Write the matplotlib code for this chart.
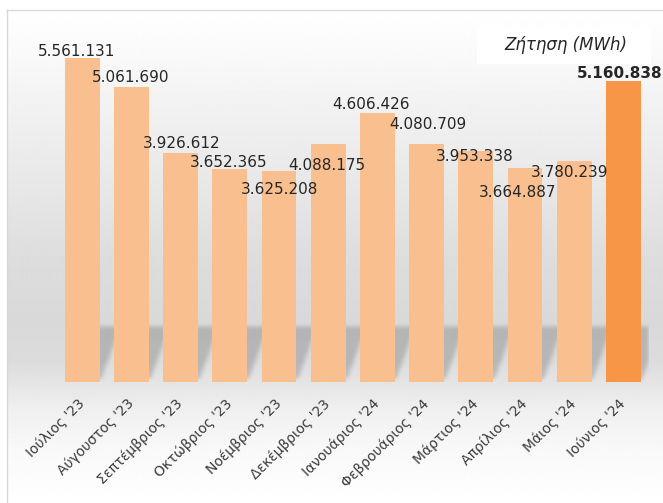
import numpy as np
import matplotlib
matplotlib.use("Agg")
import matplotlib.pyplot as plt
from matplotlib.patches import Rectangle
from matplotlib.lines import Line2D

months = ["Ιούλιος '23", "Αύγουστος '23", "Σεπτέμβριος '23", "Οκτώβριος '23",
          "Νοέμβριος '23", "Δεκέμβριος '23", "Ιανουάριος '24", "Φεβρουάριος '24",
          "Μάρτιος '24", "Απρίλιος '24", "Μάιος '24", "Ιούνιος '24"]
demand = [5561131, 5061690, 3926612, 3652365, 3625208, 4088175,
          4606426, 4080709, 3953338, 3664887, 3780239, 5160838]
title = "Ζήτηση (MWh)"

# label offsets in pixels from the top centre of each bar (as placed in the original)
lab_off = [(-6, 6), (-1, 9), (1, 9), (-1, 6), (0, -19), (-1, -22),
           (-6, 9), (1, 19), (-1, -5), (-7, -24), (-5, -11), (-4, 7)]

light = "#F9BF8F"
dark = "#F79646"

W, H = 663, 503
fig = plt.figure(figsize=(W / 100, H / 100), dpi=100)

# background gradient inside the chart frame
bg = fig.add_axes([7 / W, 0, 1 - 7 / W, (H - 10) / H])
ypx = np.arange(10, H)
stops_y = [10, 50, 120, 200, 260, 320, 360, 385, 410, 450, 503]
stops_v = [1.0, 0.98, 0.94, 0.90, 0.865, 0.85, 0.86, 0.90, 0.94, 0.975, 1.0]
g = np.interp(ypx, stops_y, stops_v)
img = np.repeat(g[:, None], 4, axis=1)
bg.imshow(img, cmap="gray", vmin=0, vmax=1, aspect="auto", interpolation="bilinear")
bg.axis("off")

fig.add_artist(Line2D([7 / W, 1], [1 - 10 / H, 1 - 10 / H], color="#d9d9d9", lw=1))
fig.add_artist(Line2D([7 / W, 7 / W], [0, 1 - 10 / H], color="#d9d9d9", lw=1))

# title box
fig.add_artist(Rectangle((477 / W, 1 - 63 / H), 173 / W, 36 / H,
                         transform=fig.transFigure, color="white", zorder=1))
fig.text(566 / W, 1 - 45 / H, title, ha="center", va="center",
         fontsize=12, style="italic", color="#262626", zorder=2)

ax = fig.add_axes([57.6 / W, 121 / H, 590.4 / W, 350 / H])
ax.patch.set_alpha(0)
x = np.arange(len(demand))
colors = [light] * (len(demand) - 1) + [dark]
bw = 0.71
ax.bar(x, demand, width=bw, color=colors, zorder=3)

# soft slanted shadow behind each bar, built as a blurred mask image
sh_h = 0.95e6
sh_dx = 0.4
nx, ny = 600, 110
gx = np.linspace(-0.5, len(demand) - 0.5, nx)
gy = np.linspace(0, 1.6e6, ny)
XX, YY = np.meshgrid(gx, gy)
t = YY / sh_h
mask = np.zeros_like(XX)
for xi in x:
    inside = (t <= 1) & (t > 0.05) & (XX >= xi - bw / 2 + t * sh_dx) & (XX <= xi + bw / 2 + t * sh_dx)
    mask = np.maximum(mask, inside * 1.0)
kern = np.ones(5) / 5
for _ in range(2):
    mask = np.apply_along_axis(lambda r: np.convolve(r, kern, mode="same"), 1, mask)
    mask = np.apply_along_axis(lambda c: np.convolve(c, kern, mode="same"), 0, mask)
shadow = np.zeros((ny, nx, 4))
shadow[..., 3] = 0.17 * mask
ax.imshow(shadow, extent=(-0.5, len(demand) - 0.5, 0, 1.6e6), origin="lower",
          aspect="auto", zorder=2, interpolation="bilinear")

for i, v in enumerate(demand):
    ax.annotate(f"{v:,}".replace(",", "."), (x[i], v), xytext=lab_off[i],
                textcoords="offset pixels", ha="center", va="center",
                fontsize=11, color="#262626",
                fontweight="bold" if i == len(demand) - 1 else "normal", zorder=5)

ax.set_xlim(-0.5, len(demand) - 0.5)
ax.set_ylim(0, 6.0e6)
ax.set_yticks([])
ax.set_xticks(x)
ax.set_xticklabels(months, fontsize=10, color="#3b3b3b")
plt.setp(ax.get_xticklabels(), rotation=45, ha="right", va="center",
         rotation_mode="anchor")
ax.tick_params(axis="x", length=0, pad=14)
for s in ax.spines.values():
    s.set_visible(False)

fig.savefig("out.png", dpi=100)
